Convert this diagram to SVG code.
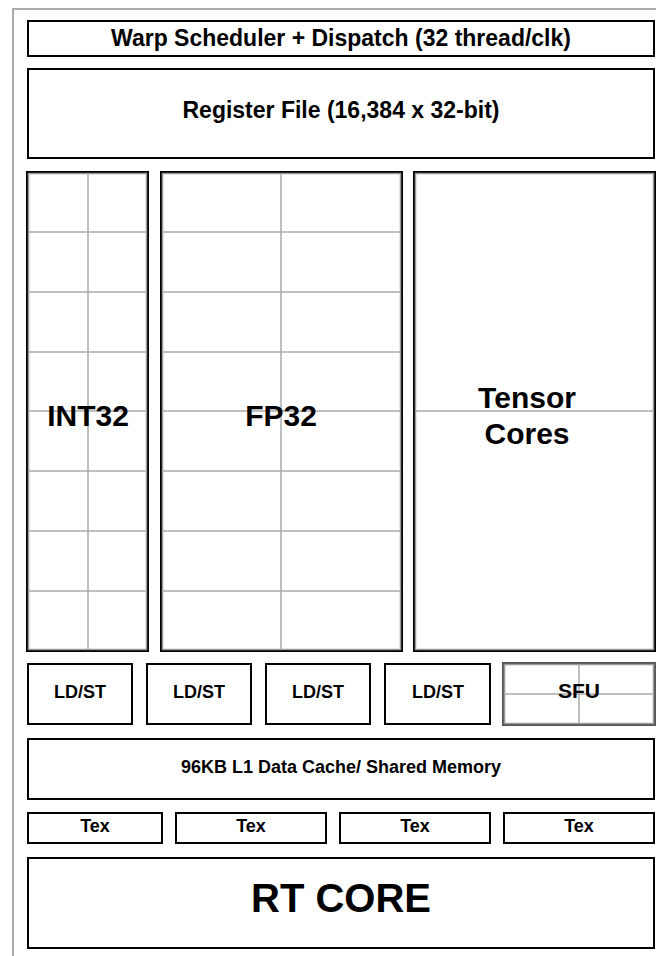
<svg xmlns="http://www.w3.org/2000/svg" width="656" height="956" viewBox="0 0 656 956">
<style>
.box{fill:#fff;stroke:#000;stroke-width:2}
.inner{fill:none;stroke:#999;stroke-width:1.5}
.grid{stroke:#aaa;stroke-width:1.5;fill:none}
text{font-family:"Liberation Sans",Arial,sans-serif;font-weight:bold;fill:#000;text-anchor:middle}
</style>
<rect x="0" y="0" width="656" height="956" fill="#fff"/>
<rect id="frame" x="13" y="9" width="700" height="1000" fill="none" stroke="#aaa" stroke-width="2"/>
<g id="warp"><rect class="box" x="28" y="21" width="626" height="35"/><text x="341" y="46" font-size="23">Warp Scheduler + Dispatch (32 thread/clk)</text></g>
<g id="regfile"><rect class="box" x="28" y="69" width="626" height="89"/><text x="341" y="118" font-size="23">Register File (16,384 x 32-bit)</text></g>
<g id="int32">
<rect class="box" x="27" y="172" width="121" height="479"/>
<rect class="inner" x="28.5" y="173.5" width="118" height="476"/>
<path class="grid" d="M88 173V650M28 232H147M28 292H147M28 352H147M28 411H147M28 471H147M28 531H147M28 591H147"/>
<text x="88" y="426" font-size="30">INT32</text>
</g>
<g id="fp32">
<rect class="box" x="161" y="172" width="241" height="479"/>
<rect class="inner" x="162.5" y="173.5" width="238" height="476"/>
<path class="grid" d="M281 173V650M162 232H401M162 292H401M162 352H401M162 411H401M162 471H401M162 531H401M162 591H401"/>
<text x="281" y="426" font-size="30">FP32</text>
</g>
<g id="tensor">
<rect class="box" x="414" y="172" width="241" height="479"/>
<rect class="inner" x="415.5" y="173.5" width="238" height="476"/>
<path class="grid" d="M415 411H654"/>
<text x="527" y="408" font-size="30">Tensor</text>
<text x="527" y="444" font-size="30">Cores</text>
</g>
<g id="ldst1"><rect class="box" x="28" y="664" width="104" height="60"/><text x="80" y="698" font-size="18">LD/ST</text></g>
<g id="ldst2"><rect class="box" x="147" y="664" width="104" height="60"/><text x="199" y="698" font-size="18">LD/ST</text></g>
<g id="ldst3"><rect class="box" x="266" y="664" width="104" height="60"/><text x="318" y="698" font-size="18">LD/ST</text></g>
<g id="ldst4"><rect class="box" x="385" y="664" width="105" height="60"/><text x="438" y="698" font-size="18">LD/ST</text></g>
<g id="sfu">
<rect x="503" y="663" width="152" height="62" fill="#fff" stroke="#555" stroke-width="2"/>
<rect class="inner" x="504.5" y="664.5" width="149" height="59"/>
<path class="grid" d="M579 664V724M504 694H654"/>
<text x="579" y="698" font-size="21">SFU</text>
</g>
<g id="l1"><rect class="box" x="28" y="739" width="626" height="60"/><text x="341" y="773" font-size="18">96KB L1 Data Cache/ Shared Memory</text></g>
<g id="tex1"><rect class="box" x="28" y="813" width="134" height="30"/><text x="95" y="832" font-size="18">Tex</text></g>
<g id="tex2"><rect class="box" x="176" y="813" width="150" height="30"/><text x="251" y="832" font-size="18">Tex</text></g>
<g id="tex3"><rect class="box" x="340" y="813" width="150" height="30"/><text x="415" y="832" font-size="18">Tex</text></g>
<g id="tex4"><rect class="box" x="504" y="813" width="150" height="30"/><text x="579" y="832" font-size="18">Tex</text></g>
<g id="rtcore"><rect class="box" x="28" y="858" width="626" height="90"/><text x="341" y="912" font-size="40">RT CORE</text></g>
<g id="connectors"/>
</svg>
